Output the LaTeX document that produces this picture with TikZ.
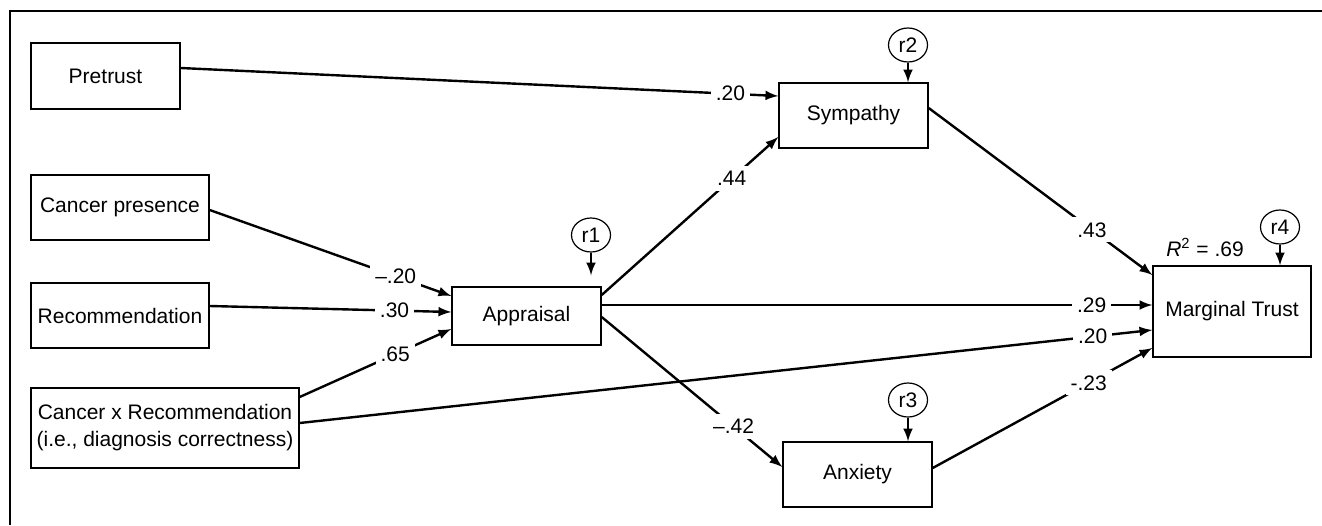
\documentclass[tikz,border=0pt]{standalone}
\usepackage{fontspec}
\setmainfont{Liberation Sans}
\usetikzlibrary{shapes.geometric}
\tikzset{
	block/.style={
		rectangle,
		draw,
		line width=.7pt,
		align=center,
		inner sep=2pt,
		minimum width=74.5pt,
		minimum height=32.5pt
	},
	resid/.style={
		ellipse,
		draw,
		line width=.6pt,
		inner sep=0pt,
		minimum width=19.5pt,
		minimum height=17pt
	},
	coef/.style={
		fill=white,
		inner sep=2.5pt
	}
}

\begin{document}
\begin{tikzpicture}[x=0.5pt, y=-0.5pt, line width=1.2pt, font=\fontsize{10.5pt}{13.5pt}\selectfont, >={latex[scale=1.8]}]
		\useasboundingbox (0,0) rectangle (1322,525);
		\draw (10,525) -- (10,11) -- (1322,11);

		\draw node[block, minimum height=33pt] (Pretrust) at (105.5,76) {Pretrust};
		\draw node[block, minimum width=89pt] (CancerPres) at (120,207.5) {Cancer presence};
		\draw node[block, minimum width=89pt] (Recom) at (120,315.5) {Recommendation};
		\draw node[block, minimum width=134pt, minimum height=40pt] (CancerRecom) at (165,428) {Cancer x Recommendation\\(i.e., diagnosis correctness)};
		\draw node[block, minimum height=29pt] (Appraisal) at (526.5,316) {Appraisal};
		\draw node[block] (Sympathy) at (853.5,115.5) {Sympathy};
		\draw node[block] (Anxiety) at (857.5,474.5) {Anxiety};
		\draw node[block, minimum width=79pt, minimum height=45.5pt] (MargTrust) at (1232,311.5) {Marginal Trust};

		\draw node[resid] (r1) at (591,235) {r1};
		\draw node[resid] (r2) at (908,45) {r2};
		\draw node[resid] (r3) at (908,400) {r3};
		\draw node[resid] (r4) at (1280,227) {r4};
		\draw node (Rsq) at (1205,247) {\textit{R}\textsuperscript{2} = .69};

		\draw [->] ([yshift=4pt]Pretrust.east) -- node[coef, pos=.92] {.20} ([yshift=9.75pt]Sympathy.west);
		\draw [->] ([yshift=-1.25pt]CancerPres.east) -- node[coef, pos=.77] {\textendash.20} ([yshift=10pt]Appraisal.west);
		\draw [->] ([yshift=4.75pt]Recom.east) -- node[coef, pos=.765] {.30} ([yshift=2pt]Appraisal.west);
		\draw [->] ([yshift=15.5pt]CancerRecom.east) -- node[coef, pos=.63] {.65} ([yshift=-6.5pt]Appraisal.west);
		\draw [->] ([yshift=2.5pt]CancerRecom.east) -- node[coef, pos=.93] {.20} ([yshift=-9.25pt]MargTrust.west);
		\draw [->] ([yshift=10.5pt]Appraisal.east) -- node[coef, pos=.736] {.44} ([yshift=-10.75pt]Sympathy.west);
		\draw [->] ([yshift=5.5pt]Appraisal.east) -- node[coef, pos=.89] {.29} ([yshift=3.25pt]MargTrust.west);
		\draw [->] ([yshift=-.5pt]Appraisal.east) -- node[coef, pos=.73] {\textendash.42} ([yshift=3.75pt]Anxiety.west);
		\draw [->] ([yshift=3.75pt]Sympathy.east) -- node[coef, pos=.73] {.43} ([yshift=18.25pt]MargTrust.west);
		\draw [->] ([yshift=3.25pt]Anxiety.east) -- node[coef, pos=.71] {-.23} ([yshift=-18.25pt]MargTrust.west);

		\draw [->, shorten >=5.5pt] (r1) -- (r1 |- Appraisal.north);
		\draw [->] (r2) -- (r2 |- Sympathy.north);
		\draw [->] (r3) -- (r3 |- Anxiety.north);
		\draw [->] (r4) -- (r4 |- MargTrust.north);
	\end{tikzpicture}
\end{document}
